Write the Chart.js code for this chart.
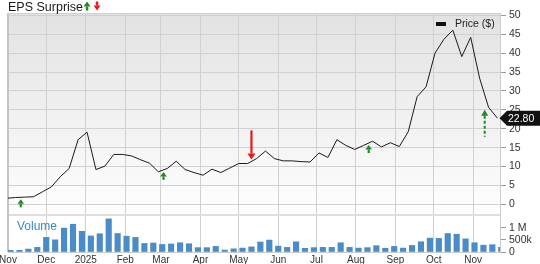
<!DOCTYPE html>
<html><head><meta charset="utf-8">
<style>html,body{margin:0;padding:0;background:#fff;overflow:hidden}#wrap{width:540px;height:264px;position:relative}</style>
<script src="https://cdn.jsdelivr.net/npm/chart.js@4.4.1/dist/chart.umd.min.js"></script>
</head><body><div id="wrap"><canvas id="c" width="540" height="264"></canvas></div>
<script>
// ---- data ----
const priceDates = ['2024-10-31','2024-11-07','2024-11-14','2024-11-21','2024-11-28','2024-12-05','2024-12-12','2024-12-19','2024-12-26',
 '2025-01-02','2025-01-09','2025-01-16','2025-01-23','2025-01-30','2025-02-06','2025-02-13','2025-02-20','2025-02-27',
 '2025-03-06','2025-03-13','2025-03-20','2025-03-27','2025-04-03','2025-04-10','2025-04-17','2025-04-24','2025-05-01',
 '2025-05-08','2025-05-15','2025-05-22','2025-05-29','2025-06-05','2025-06-12','2025-06-19','2025-06-26','2025-07-03',
 '2025-07-10','2025-07-17','2025-07-24','2025-07-31','2025-08-07','2025-08-14','2025-08-21','2025-08-28','2025-09-04',
 '2025-09-11','2025-09-18','2025-09-25','2025-10-02','2025-10-09','2025-10-16','2025-10-23','2025-10-30','2025-11-06',
 '2025-11-13','2025-11-20'];
const prices = [1.6,1.8,1.9,2.0,3.3,4.6,7.3,9.5,17.1,19.1,9.2,10.1,13.2,13.2,12.8,11.8,10.9,8.6,9.5,11.4,9.2,8.4,7.7,9.3,8.4,9.6,10.8,
 10.8,12.1,14.1,12.1,11.5,11.5,11.3,11.2,13.6,12.4,17.1,15.6,14.5,15.6,16.7,15.2,16.3,15.3,19.2,28.5,31.1,40.0,43.7,46.1,39.1,
 44.2,33.4,25.7,22.80];
const volumeDates = ['2024-11-03','2024-11-10','2024-11-17','2024-11-24','2024-12-01','2024-12-08','2024-12-15','2024-12-22','2024-12-29',
 '2025-01-05','2025-01-12','2025-01-19','2025-01-26','2025-02-02','2025-02-09','2025-02-16','2025-02-23','2025-03-02',
 '2025-03-09','2025-03-16','2025-03-23','2025-03-30','2025-04-06','2025-04-13','2025-04-20','2025-04-27','2025-05-04',
 '2025-05-11','2025-05-18','2025-05-25','2025-06-01','2025-06-08','2025-06-15','2025-06-22','2025-06-29','2025-07-06',
 '2025-07-13','2025-07-20','2025-07-27','2025-08-03','2025-08-10','2025-08-17','2025-08-24','2025-08-31','2025-09-07',
 '2025-09-14','2025-09-21','2025-09-28','2025-10-05','2025-10-12','2025-10-19','2025-10-26','2025-11-02','2025-11-09',
 '2025-11-16','2025-11-23'];
const volumes = [70000,70000,120000,190000,600000,500000,980000,1140000,850000,660000,750000,1360000,760000,650000,600000,350000,
 370000,310000,330000,380000,340000,180000,180000,230000,80000,130000,160000,210000,410000,490000,240000,190000,420000,150000,
 180000,190000,190000,380000,190000,160000,180000,260000,150000,230000,160000,270000,420000,570000,560000,760000,730000,540000,
 380000,280000,300000,190000];
const monthTickDates = ['2024-11-01','2024-12-01','2025-01-01','2025-02-01','2025-03-01','2025-04-01','2025-05-01','2025-06-01',
 '2025-07-01','2025-08-01','2025-09-01','2025-10-01','2025-11-01'];
const monthTickLabels = ['Nov','Dec','2025','Feb','Mar','Apr','May','Jun','Jul','Aug','Sep','Oct','Nov'];
const priceTicks = [0,5,10,15,20,25,30,35,40,45,50];
const volumeTicks = [0,500000,1000000];
const volumeTickLabels = ['0','500k','1 M'];
const epsDates = ['2024-11-11','2025-03-03','2025-05-11','2025-08-11','2025-11-10'];
const epsResults = ['beat','beat','miss','beat','beat'];
const axisStartDate = '2024-11-01';
const axisEndDate = '2025-11-22';

// ---- helpers ----
const DAY = 86400000;
function utc(s){ const p = s.split('-').map(Number); return Date.UTC(p[0], p[1]-1, p[2]); }
const T0 = utc(axisStartDate);
function dayOf(s){ return (utc(s) - T0) / DAY; }
function priceAt(day){
  const xs = priceDates.map(dayOf);
  for (let i = 0; i < xs.length - 1; i++) {
    if (day >= xs[i] && day <= xs[i+1]) {
      const f = (day - xs[i]) / (xs[i+1] - xs[i]);
      return prices[i] + f * (prices[i+1] - prices[i]);
    }
  }
  return prices[prices.length-1];
}

const FONT = "'Liberation Sans', Arial, Helvetica, sans-serif";
Chart.defaults.font.family = FONT;
Chart.defaults.color = '#333';

const GREEN = '#1f8a22', RED = '#e41b1b';

function arrow(ctx, cx, tipY, dir, len, headW, headH, stemW, color, dashed){
  ctx.save();
  ctx.fillStyle = color; ctx.strokeStyle = color;
  ctx.beginPath();
  ctx.moveTo(cx, tipY);
  ctx.lineTo(cx - headW/2, tipY + dir*headH);
  ctx.lineTo(cx + headW/2, tipY + dir*headH);
  ctx.closePath(); ctx.fill();
  ctx.lineWidth = stemW;
  if (dashed) ctx.setLineDash([3, 2]);
  ctx.beginPath();
  ctx.moveTo(cx, tipY + dir*headH);
  ctx.lineTo(cx, tipY + dir*len);
  ctx.stroke();
  ctx.restore();
}

const decor = {
  id: 'decor',
  beforeDraw(chart){
    const {ctx, chartArea: a, scales: {y}} = chart;
    ctx.save();
    const g = ctx.createLinearGradient(0, y.top, 0, y.getPixelForValue(0));
    g.addColorStop(0, '#e2e2e2'); g.addColorStop(1, '#fdfdfd');
    ctx.fillStyle = g;
    ctx.fillRect(a.left, y.top, a.right - a.left, y.bottom - y.top);
    ctx.restore();
  },
  beforeDatasetsDraw(chart){
    const {ctx, chartArea: a, scales: {y}} = chart;
    ctx.save();
    ctx.strokeStyle = '#dedede'; ctx.lineWidth = 2;
    ctx.beginPath(); ctx.moveTo(a.left, y.bottom); ctx.lineTo(a.right, y.bottom); ctx.stroke();
    ctx.strokeStyle = '#c4c4c4'; ctx.lineWidth = 2;
    ctx.beginPath(); ctx.moveTo(a.left, a.top); ctx.lineTo(a.left, a.bottom); ctx.stroke();
    ctx.strokeStyle = '#cfcfcf'; ctx.lineWidth = 1;
    ctx.beginPath(); ctx.moveTo(a.left, a.top + 0.5); ctx.lineTo(a.right, a.top + 0.5); ctx.stroke();
    ctx.restore();
  },
  afterDraw(chart){
    const {ctx, chartArea: a, scales: {x, y, yv}} = chart;
    ctx.save();
    // EPS arrows
    epsDates.forEach((d, i) => {
      const day = dayOf(d);
      const cx = x.getPixelForValue(day);
      const ly = y.getPixelForValue(priceAt(day));
      const latest = i === epsDates.length - 1;
      if (epsResults[i] === 'miss') {
        arrow(ctx, cx, ly - 2, -1, 29, 8, 6, 2.2, RED, false);
      } else if (latest) {
        arrow(ctx, cx, ly + 15, 1, 27, 7, 6, 2, GREEN, true);
      } else {
        arrow(ctx, cx, ly + 2, 1, 8, 6.5, 4.5, 2.2, GREEN, false);
      }
    });
    // Legend
    ctx.fillStyle = '#111';
    ctx.fillRect(a.right - 64, a.top + 9, 10, 4);
    ctx.font = '10.5px ' + FONT;
    ctx.fillStyle = '#222'; ctx.textBaseline = 'middle'; ctx.textAlign = 'left';
    ctx.fillText('Price ($)', a.right - 45, a.top + 11);
    // Volume label
    ctx.font = '12px ' + FONT;
    ctx.fillStyle = '#3b88c6';
    ctx.fillText('Volume', a.left + 9, yv.top + 12);
    // Title
    ctx.fillStyle = '#1a1a1a'; ctx.textBaseline = 'alphabetic';
    ctx.font = '12.5px ' + FONT;
    ctx.fillText('EPS Surprise', a.left, 10.5);
    const tw = ctx.measureText('EPS Surprise').width;
    arrow(ctx, a.left + tw + 4, 1.5, 1, 9, 7, 5, 2.5, GREEN, false);
    arrow(ctx, a.left + tw + 14, 10.5, -1, 9, 7, 5, 2.5, RED, false);
    // Last price tag
    const last = prices[prices.length - 1];
    const ty = y.getPixelForValue(last);
    ctx.fillStyle = '#111';
    ctx.beginPath();
    ctx.moveTo(a.right - 0.5, ty);
    ctx.lineTo(a.right + 7, ty - 7.5);
    ctx.lineTo(chart.width, ty - 7.5);
    ctx.lineTo(chart.width, ty + 7.5);
    ctx.lineTo(a.right + 7, ty + 7.5);
    ctx.closePath(); ctx.fill();
    ctx.fillStyle = '#fff'; ctx.font = '10.5px ' + FONT; ctx.textBaseline = 'middle';
    ctx.fillText(last.toFixed(2), a.right + 8, ty + 0.5);
    ctx.restore();
  }
};

new Chart(document.getElementById('c'), {
  data: {
    datasets: [
      { type: 'line', data: priceDates.map((d, i) => ({x: dayOf(d), y: prices[i]})), yAxisID: 'y',
        borderColor: '#1a1a1a', borderWidth: 1, pointRadius: 0, tension: 0, order: 0 },
      { type: 'bar', data: volumeDates.map((d, i) => ({x: dayOf(d), y: volumes[i]})), yAxisID: 'yv',
        backgroundColor: '#4a8cc8', borderWidth: 0, barThickness: 5.5, order: 1 }
    ]
  },
  options: {
    responsive: false, animation: false, devicePixelRatio: 1,
    layout: { padding: { left: 8, top: 13, right: 0, bottom: 0 } },
    plugins: { legend: { display: false }, tooltip: { enabled: false } },
    scales: {
      x: {
        type: 'linear', offset: false, min: dayOf(axisStartDate), max: dayOf(axisEndDate),
        afterBuildTicks: s => { s.ticks = monthTickDates.map(d => ({value: dayOf(d)})); },
        ticks: { callback: (v, i) => monthTickLabels[i], color: '#333', font: {size: 10}, padding: 2,
                 maxRotation: 0, autoSkip: false },
        grid: { color: '#d0d0d0', drawTicks: false, offset: false },
        border: { display: true, color: '#cccccc' },
        afterFit: s => { s.height = 12; s.paddingLeft = 0; s.paddingRight = 0; }
      },
      y: {
        type: 'linear', position: 'right', stack: 'main', stackWeight: 202, min: -2.83, max: 50.64,
        afterBuildTicks: s => { s.ticks = priceTicks.map(v => ({value: v})); },
        ticks: { callback: v => String(v), color: '#333', font: {size: 10.5}, padding: 3, autoSkip: false },
        grid: { color: '#d0d0d0', tickColor: '#9a9a9a', tickLength: 6 },
        border: { display: true, color: '#cccccc' },
        afterFit: s => { s.width = 40; }
      },
      yv: {
        type: 'linear', position: 'right', stack: 'main', stackWeight: 37, min: 0, max: 1520000,
        afterBuildTicks: s => { s.ticks = volumeTicks.map(v => ({value: v})); },
        ticks: { callback: (v, i) => volumeTickLabels[i], color: '#333', font: {size: 10.5}, padding: 3, autoSkip: false },
        grid: { drawOnChartArea: false, tickColor: '#9a9a9a', tickLength: 6 },
        border: { display: true, color: '#cccccc' },
        afterFit: s => { s.width = 40; }
      }
    }
  },
  plugins: [decor]
});
</script></body></html>
